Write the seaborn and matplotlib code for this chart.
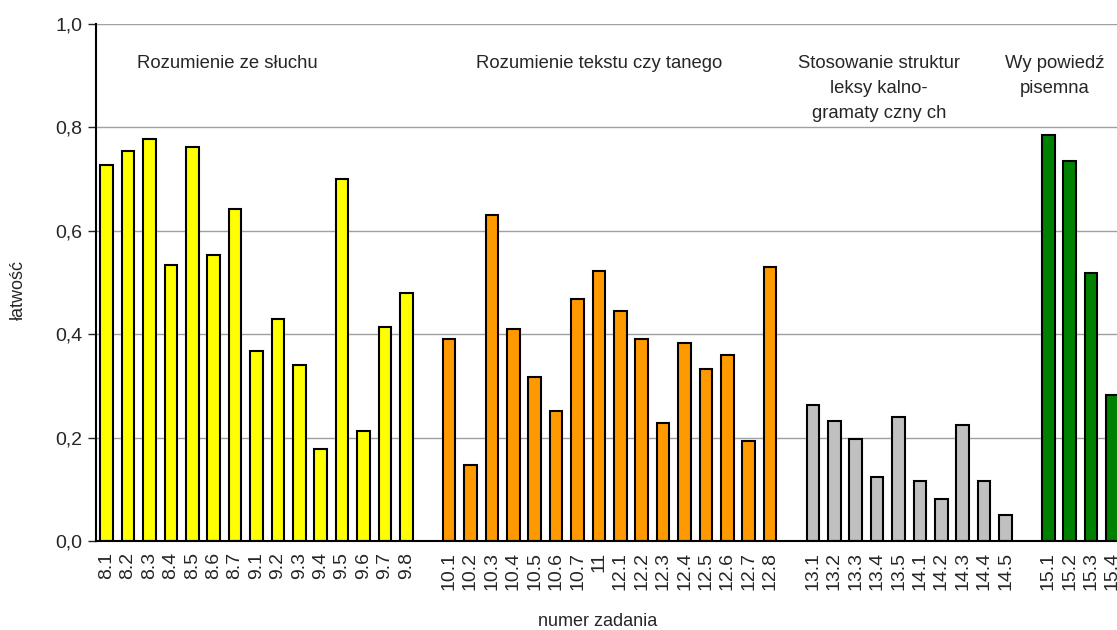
import matplotlib
matplotlib.use("Agg")
import matplotlib.pyplot as plt
import seaborn as sns
import pandas as pd
from matplotlib.ticker import FixedLocator, FuncFormatter

# data
listening = ["8.1", "8.2", "8.3", "8.4", "8.5", "8.6", "8.7",
             "9.1", "9.2", "9.3", "9.4", "9.5", "9.6", "9.7", "9.8"]
listening_vals = [0.727, 0.754, 0.778, 0.534, 0.762, 0.553, 0.643,
                  0.368, 0.429, 0.340, 0.178, 0.700, 0.213, 0.414, 0.480]

reading = ["10.1", "10.2", "10.3", "10.4", "10.5", "10.6", "10.7", "11",
           "12.1", "12.2", "12.3", "12.4", "12.5", "12.6", "12.7", "12.8"]
reading_vals = [0.391, 0.147, 0.631, 0.410, 0.317, 0.251, 0.468, 0.523,
                0.445, 0.391, 0.228, 0.383, 0.333, 0.360, 0.194, 0.530]

grammar = ["13.1", "13.2", "13.3", "13.4", "13.5",
           "14.1", "14.2", "14.3", "14.4", "14.5"]
grammar_vals = [0.264, 0.232, 0.197, 0.123, 0.240,
                0.116, 0.081, 0.225, 0.116, 0.050]

writing = ["15.1", "15.2", "15.3", "15.4"]
writing_vals = [0.785, 0.735, 0.518, 0.282]

group_names = ["Rozumienie ze słuchu", "Rozumienie tekstu czy tanego",
               "Stosowanie struktur\nleksy kalno-\ngramaty czny ch",
               "Wy powiedź\npisemna"]
group_colors = ["#ffff00", "#ff9900", "#c0c0c0", "#008000"]
# caption centres, in category slots
caption_x = [5.65, 23.0, 36.1, 44.3]

groups = [(listening, listening_vals), (reading, reading_vals),
          (grammar, grammar_vals), (writing, writing_vals)]

rows = []
order = []
for i, (cats, vals) in enumerate(groups):
    for c, v in zip(cats, vals):
        rows.append({"zadanie": c, "latwosc": v, "grupa": group_names[i]})
    order += cats
    if i < len(groups) - 1:
        order.append(" " * (i + 1))  # empty slot between groups
# hidden slots past the right edge of the picture
hidden = ["15.5", "15.6"]
order += hidden
df = pd.DataFrame(rows)

sns.set_style("white")
plt.rcParams["font.family"] = ["Liberation Sans", "DejaVu Sans"]

fig = plt.figure(figsize=(11.17, 6.3), dpi=100)
n = len(order)
step = 21.4
ax = fig.add_axes([96 / 1117, 89 / 630, n * step / 1117, 517 / 630])

sns.barplot(data=df, x="zadanie", y="latwosc", hue="grupa", order=order,
            hue_order=group_names, palette=group_colors, dodge=False,
            saturation=1, width=0.58, edgecolor="black", linewidth=1.5,
            legend=False, ax=ax)

ax.set_xlim(-0.5, n - 0.5)
ax.set_ylim(0, 1.0)
ax.set_yticks([0, 0.2, 0.4, 0.6, 0.8, 1.0])
ax.yaxis.set_major_formatter(FuncFormatter(lambda v, p: f"{v:.1f}".replace(".", ",")))
ax.yaxis.grid(True, color="#a0a0a0", linewidth=1)
ax.set_axisbelow(True)

labels = [t if t.strip() and t not in hidden else "" for t in order]
ax.set_xticks(range(n))
ax.set_xticklabels(labels, rotation=90, fontsize=14)
ax.tick_params(axis="x", which="major", length=0, pad=8)
ax.xaxis.set_minor_locator(FixedLocator([i - 0.5 for i in range(n + 1)]))
ax.tick_params(axis="x", which="minor", length=6, width=1, color="#404040",
               direction="out")
ax.tick_params(axis="y", labelsize=14, length=6, width=1, direction="out",
               left=True, pad=4)

for side in ["top", "right"]:
    ax.spines[side].set_visible(False)
for side in ["left", "bottom"]:
    ax.spines[side].set_linewidth(1.5)
    ax.spines[side].set_color("black")

ax.set_xlabel("")
ax.set_ylabel("")
fig.text(18 / 1117, 1 - 290 / 630, "łatwość", rotation=90, ha="center",
         va="center", fontsize=13)
fig.text(598 / 1117, 1 - 621 / 630, "numer zadania", ha="center",
         va="center", fontsize=13)

# group captions
for name, cx in zip(group_names, caption_x):
    ax.text(cx, 0.94, name, ha="center", va="top", fontsize=13.3,
            linespacing=1.6)

fig.savefig("out.png", dpi=100)
